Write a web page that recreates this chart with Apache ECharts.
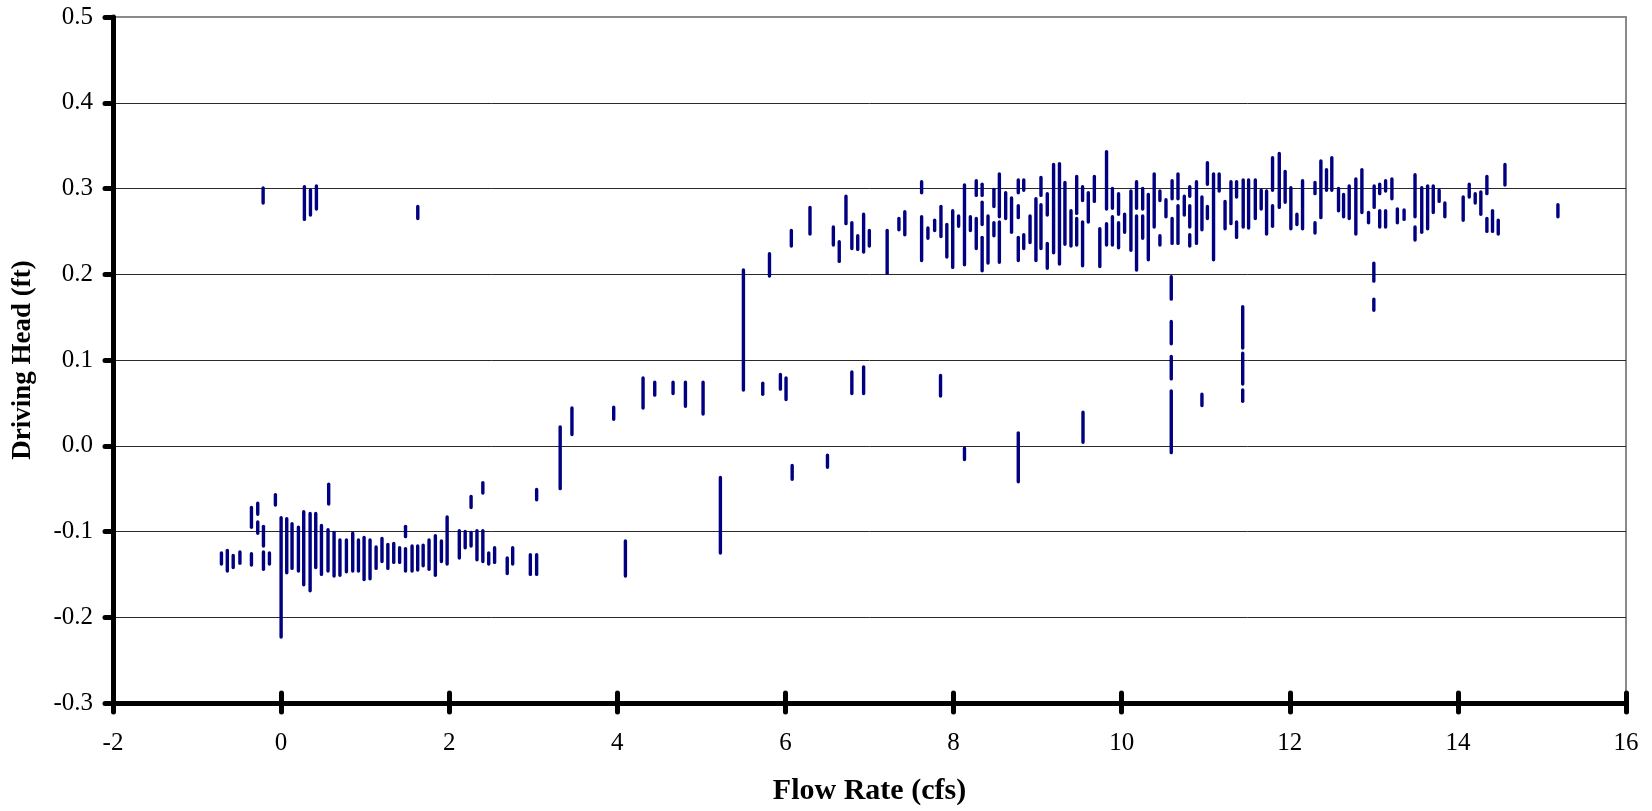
<!DOCTYPE html>
<html>
<head>
<meta charset="utf-8">
<script src="https://cdn.jsdelivr.net/npm/echarts@6/dist/echarts.min.js"></script>
<style>
html,body{margin:0;padding:0;background:#fff;}
#chart{width:1652px;height:811px;}
</style>
</head>
<body>
<div id="chart"></div>
<script>
// Axis settings
const xRange = [-2, 16];
const xStep = 2;
const yRange = [-0.3, 0.5];
const yStep = 0.1;
const xTitle = 'Flow Rate (cfs)';
const yTitle = 'Driving Head (ft)';

// Each mark is a vertical dash cluster: [flow, head top, head bottom]
const lowFlowBars = [
  [-0.71, -0.123, -0.140], [-0.64, -0.120, -0.148], [-0.57, -0.126, -0.144], [-0.49, -0.122, -0.139],
  [-0.353, -0.070, -0.097], [-0.353, -0.124, -0.141], [-0.278, -0.065, -0.082], [-0.278, -0.087, -0.104],
  [-0.21, -0.092, -0.119], [-0.21, -0.122, -0.146], [-0.139, -0.123, -0.140], [-0.068, -0.055, -0.071],
  [0.0, -0.082, -0.225], [0.067, -0.083, -0.150], [0.13, -0.089, -0.145], [0.206, -0.093, -0.148],
  [0.269, -0.075, -0.164], [0.345, -0.077, -0.171], [0.412, -0.077, -0.144], [0.48, -0.091, -0.152],
  [0.566, -0.043, -0.070], [0.558, -0.096, -0.148], [0.63, -0.099, -0.154], [0.70, -0.108, -0.153],
  [0.777, -0.108, -0.149], [0.852, -0.100, -0.148], [0.92, -0.108, -0.148], [0.987, -0.105, -0.158],
  [1.058, -0.108, -0.157], [1.13, -0.116, -0.145], [1.20, -0.106, -0.137], [1.27, -0.113, -0.145],
  [1.34, -0.112, -0.138], [1.41, -0.117, -0.138], [1.48, -0.092, -0.108], [1.48, -0.118, -0.148],
  [1.558, -0.115, -0.148], [1.625, -0.115, -0.147], [1.69, -0.114, -0.142], [1.76, -0.108, -0.146],
  [1.835, -0.103, -0.153], [1.907, -0.109, -0.137], [1.975, -0.081, -0.140], [2.12, -0.097, -0.133],
  [2.19, -0.098, -0.121], [2.26, -0.057, -0.074], [2.26, -0.099, -0.119], [2.33, -0.097, -0.135],
  [2.40, -0.041, -0.057], [2.40, -0.097, -0.137], [2.47, -0.123, -0.140], [2.54, -0.117, -0.138],
  [2.69, -0.129, -0.151], [2.755, -0.117, -0.140], [2.965, -0.125, -0.152], [3.04, -0.125, -0.152]
];

const lowFlowHighHead = [
  [-0.214, 0.3025, 0.281], [0.277, 0.304, 0.262], [0.349, 0.300, 0.267], [0.42, 0.305, 0.274],
  [1.626, 0.281, 0.263]
];

const transitionBars = [
  [3.04, -0.049, -0.065], [3.32, 0.024, -0.052], [3.46, 0.046, 0.011], [3.957, 0.047, 0.029],
  [4.096, -0.109, -0.154], [4.306, 0.081, 0.042], [4.445, 0.076, 0.057], [4.663, 0.076, 0.059],
  [4.81, 0.076, 0.044], [5.02, 0.076, 0.035], [5.226, -0.035, -0.127], [5.50, 0.207, 0.063],
  [5.73, 0.075, 0.058], [5.81, 0.226, 0.196], [5.94, 0.085, 0.064], [6.007, 0.081, 0.052],
  [6.08, -0.021, -0.041], [6.50, -0.009, -0.027], [6.79, 0.088, 0.059], [6.93, 0.094, 0.059],
  [7.845, 0.084, 0.056], [8.13, -0.001, -0.018], [8.77, 0.017, -0.044], [9.54, 0.041, 0.002],
  [10.59, 0.199, 0.169], [10.59, 0.147, 0.117], [10.59, 0.106, 0.076], [10.59, 0.066, -0.010],
  [10.955, 0.062, 0.045], [11.44, 0.164, 0.112], [11.44, 0.110, 0.070], [11.44, 0.067, 0.050],
  [13.0, 0.215, 0.190], [13.0, 0.173, 0.156], [15.19, 0.283, 0.265]
];

const highFlowBars = [
  [6.07, 0.253, 0.231], [6.292, 0.280, 0.245], [6.57, 0.257, 0.232], [6.64, 0.240, 0.213],
  [6.72, 0.293, 0.257], [6.79, 0.262, 0.228], [6.86, 0.247, 0.227], [6.93, 0.272, 0.224],
  [6.998, 0.253, 0.231], [7.21, 0.253, 0.199], [7.35, 0.267, 0.250], [7.42, 0.275, 0.244],
  [7.62, 0.310, 0.293], [7.62, 0.269, 0.214], [7.695, 0.256, 0.240], [7.775, 0.265, 0.249],
  [7.85, 0.281, 0.242], [7.92, 0.260, 0.218], [7.99, 0.276, 0.206], [8.06, 0.270, 0.254],
  [8.13, 0.306, 0.209], [8.20, 0.269, 0.249], [8.27, 0.311, 0.290], [8.27, 0.267, 0.228],
  [8.34, 0.307, 0.290], [8.34, 0.286, 0.256], [8.34, 0.245, 0.202], [8.41, 0.270, 0.211],
  [8.48, 0.301, 0.277], [8.48, 0.262, 0.243], [8.545, 0.319, 0.265], [8.545, 0.263, 0.212],
  [8.62, 0.297, 0.263], [8.69, 0.291, 0.247], [8.77, 0.312, 0.293], [8.77, 0.282, 0.264],
  [8.77, 0.245, 0.214], [8.835, 0.312, 0.296], [8.835, 0.248, 0.228], [8.91, 0.270, 0.235],
  [8.98, 0.290, 0.214], [9.04, 0.315, 0.290], [9.04, 0.283, 0.228], [9.115, 0.296, 0.267],
  [9.115, 0.238, 0.205], [9.19, 0.330, 0.223], [9.26, 0.331, 0.210], [9.325, 0.309, 0.233],
  [9.397, 0.276, 0.231], [9.465, 0.316, 0.269], [9.465, 0.267, 0.232], [9.535, 0.304, 0.284],
  [9.535, 0.263, 0.208], [9.603, 0.297, 0.259], [9.675, 0.316, 0.283], [9.74, 0.255, 0.207],
  [9.82, 0.345, 0.274], [9.82, 0.261, 0.232], [9.89, 0.302, 0.275], [9.89, 0.269, 0.232],
  [9.963, 0.296, 0.268], [9.963, 0.262, 0.229], [10.035, 0.272, 0.247], [10.11, 0.299, 0.226],
  [10.177, 0.310, 0.275], [10.177, 0.270, 0.203], [10.25, 0.302, 0.274], [10.25, 0.270, 0.240],
  [10.317, 0.295, 0.215], [10.387, 0.319, 0.253], [10.455, 0.299, 0.284], [10.455, 0.247, 0.232],
  [10.527, 0.289, 0.265], [10.60, 0.311, 0.286], [10.60, 0.267, 0.234], [10.67, 0.319, 0.286],
  [10.67, 0.282, 0.234], [10.745, 0.293, 0.267], [10.81, 0.304, 0.289], [10.81, 0.282, 0.253],
  [10.81, 0.248, 0.231], [10.89, 0.310, 0.234], [10.955, 0.292, 0.250], [11.02, 0.332, 0.303],
  [11.02, 0.281, 0.263], [11.093, 0.319, 0.215], [11.16, 0.319, 0.295], [11.23, 0.287, 0.251],
  [11.30, 0.310, 0.257], [11.367, 0.310, 0.288], [11.367, 0.263, 0.241], [11.446, 0.312, 0.253],
  [11.51, 0.312, 0.252], [11.59, 0.312, 0.263], [11.66, 0.300, 0.274], [11.724, 0.299, 0.245],
  [11.795, 0.338, 0.296], [11.795, 0.282, 0.254], [11.875, 0.343, 0.276], [11.945, 0.322, 0.282],
  [12.013, 0.303, 0.251], [12.085, 0.272, 0.256], [12.152, 0.311, 0.251], [12.30, 0.309, 0.292],
  [12.30, 0.262, 0.246], [12.37, 0.334, 0.264], [12.437, 0.324, 0.296], [12.50, 0.338, 0.296],
  [12.58, 0.302, 0.272], [12.64, 0.295, 0.265], [12.707, 0.305, 0.263], [12.786, 0.313, 0.245],
  [12.858, 0.324, 0.270], [12.937, 0.274, 0.258], [13.004, 0.305, 0.276], [13.07, 0.307, 0.292],
  [13.07, 0.276, 0.253], [13.14, 0.311, 0.295], [13.14, 0.276, 0.253], [13.215, 0.313, 0.286],
  [13.28, 0.278, 0.258], [13.36, 0.277, 0.262], [13.49, 0.318, 0.265], [13.49, 0.257, 0.238],
  [13.57, 0.303, 0.247], [13.64, 0.305, 0.251], [13.707, 0.305, 0.270], [13.777, 0.300, 0.283],
  [13.845, 0.285, 0.265], [14.063, 0.292, 0.261], [14.135, 0.307, 0.288], [14.206, 0.296, 0.281],
  [14.273, 0.298, 0.268], [14.345, 0.316, 0.292], [14.345, 0.267, 0.248], [14.412, 0.276, 0.248],
  [14.48, 0.265, 0.245], [14.56, 0.330, 0.302]
];

const MARK_COLOR = '#000080';
const FONT = '"Liberation Serif", "Times New Roman", serif';

function renderDash(params, api) {
  const x = api.value(0);
  const top = api.coord([x, api.value(1)]);
  const bot = api.coord([x, api.value(2)]);
  const w = 3.4;
  const h = Math.max(bot[1] - top[1], 6);
  return {
    type: 'rect',
    shape: { x: top[0] - w / 2, y: top[1], width: w, height: h, r: w / 2 },
    style: { fill: MARK_COLOR }
  };
}

function dashSeries(name, data) {
  return {
    name: name,
    type: 'custom',
    renderItem: renderDash,
    data: data,
    encode: { x: 0, y: [1, 2] },
    clip: true,
    z: 3
  };
}

const chart = echarts.init(document.getElementById('chart'), null, { renderer: 'canvas' });

const tickStyle = { color: '#000', width: 5, cap: 'round' };

chart.setOption({
  animation: false,
  backgroundColor: '#fff',
  grid: {
    left: 113, right: 26, top: 17, bottom: 103,
    show: true, borderColor: '#8a8a8a', borderWidth: 2, backgroundColor: 'transparent'
  },
  xAxis: [
    {
      type: 'value', min: xRange[0], max: xRange[1], interval: xStep, position: 'bottom',
      axisLine: { show: true, onZero: false, lineStyle: { color: '#000', width: 5 } },
      axisTick: { show: true, length: 9, lineStyle: tickStyle },
      axisLabel: { fontFamily: FONT, fontSize: 25, color: '#000', margin: 28 },
      splitLine: { show: false },
      name: xTitle, nameLocation: 'middle', nameGap: 73,
      nameTextStyle: { fontFamily: FONT, fontSize: 30, fontWeight: 'bold', color: '#000' }
    },
    {
      type: 'value', min: xRange[0], max: xRange[1], interval: xStep, position: 'bottom',
      axisLine: { show: false, onZero: false },
      axisTick: { show: true, inside: true, length: 10, lineStyle: tickStyle },
      axisLabel: { show: false },
      splitLine: { show: false }
    }
  ],
  yAxis: {
    type: 'value', min: yRange[0], max: yRange[1], interval: yStep,
    axisLine: { show: true, onZero: false, lineStyle: { color: '#000', width: 5 } },
    axisTick: { show: true, length: 8, lineStyle: tickStyle },
    axisLabel: {
      fontFamily: FONT, fontSize: 25, color: '#000', margin: 20,
      formatter: v => (Math.abs(v) < 1e-9 ? 0 : v).toFixed(1)
    },
    splitLine: { show: true, showMinLine: false, showMaxLine: false, lineStyle: { color: '#2a2a2a', width: 1 } },
    name: yTitle, nameLocation: 'middle', nameGap: 76,
    nameTextStyle: { fontFamily: FONT, fontSize: 27, fontWeight: 'bold', color: '#000' }
  },
  series: [
    dashSeries('low flow', lowFlowBars),
    dashSeries('low flow high head', lowFlowHighHead),
    dashSeries('transition', transitionBars),
    dashSeries('high flow', highFlowBars)
  ]
});
</script>
</body>
</html>
